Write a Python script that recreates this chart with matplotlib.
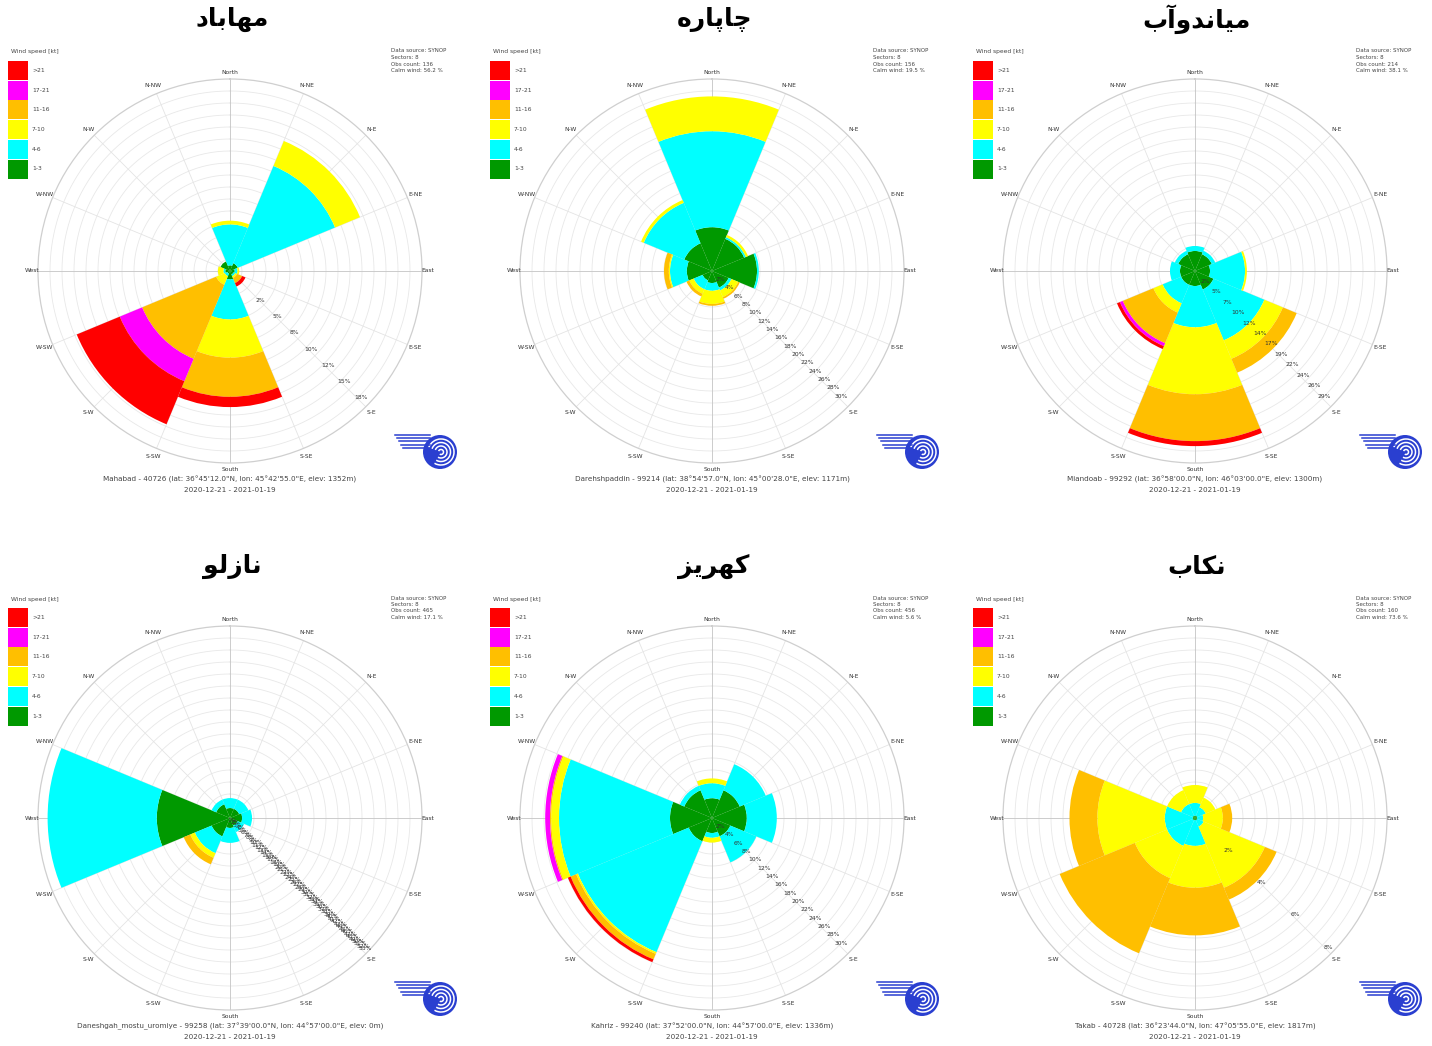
import numpy as np
import matplotlib
matplotlib.use('Agg')
import matplotlib.pyplot as plt
from matplotlib.patches import Rectangle, Circle, Arc

# speed classes [kt] and their colours
classes = ['1-3', '4-6', '7-10', '11-16', '17-21', '>21']
class_colors = ['#009900', '#00ffff', '#ffff00', '#ffbf00', '#ff00ff', '#ff0000']
dirs = ['N', 'NE', 'E', 'SE', 'S', 'SW', 'W', 'NW']
compass = ['North', 'N-NE', 'N-E', 'E-NE', 'East', 'E-SE', 'S-E', 'S-SE',
           'South', 'S-SW', 'S-W', 'W-SW', 'West', 'W-NW', 'N-W', 'N-NW']

titles = ['مهاباد', 'چاپاره', 'میاندوآب', 'نازلو', 'کهریز', 'نکاب']
stations = [
    "Mahabad - 40726 (lat: 36\u00b045'12.0\"N, lon: 45\u00b042'55.0\"E, elev: 1352m)",
    "Darehshpaddin - 99214 (lat: 38\u00b054'57.0\"N, lon: 45\u00b000'28.0\"E, elev: 1171m)",
    "Miandoab - 99292 (lat: 36\u00b058'00.0\"N, lon: 46\u00b003'00.0\"E, elev: 1300m)",
    "Daneshgah_mostu_uromiye - 99258 (lat: 37\u00b039'00.0\"N, lon: 44\u00b057'00.0\"E, elev: 0m)",
    "Kahriz - 99240 (lat: 37\u00b052'00.0\"N, lon: 44\u00b057'00.0\"E, elev: 1336m)",
    "Takab - 40728 (lat: 36\u00b023'44.0\"N, lon: 47\u00b005'55.0\"E, elev: 1817m)",
]
period = '2020-12-21 - 2021-01-19'
obs_count = [136, 156, 214, 465, 456, 160]
calm_pct = [56.2, 19.5, 38.1, 17.1, 5.6, 73.6]

# frequency [%], rows = N..NW, cols = speed classes
mahabad = [[0.6, 4.4, 0.4, 0, 0, 0],
           [0.9, 11.3, 2.9, 0, 0, 0],
           [0.5, 0.3, 0.2, 0, 0, 0],
           [0.4, 0.2, 0.2, 0.6, 0, 0.4],
           [0.9, 4.3, 4.1, 4.2, 0, 1.1],
           [0.3, 0.3, 1.0, 8.6, 2.6, 5.0],
           [0.5, 0.2, 0.6, 0, 0, 0],
           [1.1, 0, 0, 0, 0, 0]]
chapareh = [[7.3, 16.0, 5.8, 0, 0, 0],
            [5.8, 0.3, 0.4, 0, 0, 0],
            [7.5, 0.3, 0, 0, 0, 0],
            [3.0, 0.5, 1.2, 0.3, 0, 0],
            [2.0, 1.3, 2.2, 0.3, 0, 0],
            [1.7, 1.6, 0.8, 0.5, 0, 0],
            [4.2, 2.8, 0.2, 0.8, 0, 0],
            [5.0, 7.3, 0.5, 0, 0, 0]]
miandoab = [[3.2, 0.8, 0, 0, 0, 0],
            [2.9, 0.6, 0, 0, 0, 0],
            [2.4, 5.6, 0.3, 0, 0, 0],
            [3.2, 8.8, 3.2, 2.4, 0, 0],
            [2.4, 6.6, 10.7, 7.5, 0, 0.8],
            [2.4, 3.2, 1.6, 5.3, 0.5, 0.5],
            [2.4, 1.6, 0, 0, 0, 0],
            [2.9, 0.6, 0, 0, 0, 0]]
nazlu = [[2.8, 2.8, 0, 0, 0, 0],
         [2.8, 2.8, 0, 0, 0, 0],
         [3.4, 2.8, 0, 0, 0, 0],
         [2.3, 2.0, 0, 0, 0, 0],
         [2.8, 4.2, 0, 0, 0, 0],
         [5.6, 5.1, 1.4, 2.0, 0, 0],
         [20.6, 30.7, 0, 0, 0, 0],
         [4.2, 1.4, 0, 0, 0, 0]]
kahriz = [[3.3, 2.5, 0.8, 0, 0, 0],
          [5.0, 4.7, 0, 0, 0, 0],
          [5.8, 5.0, 0, 0, 0, 0],
          [3.3, 4.7, 0, 0, 0, 0],
          [2.5, 0.8, 0.8, 0, 0, 0],
          [4.2, 20.0, 0.3, 1.0, 0, 0.5],
          [7.0, 18.5, 1.3, 0.2, 0.8, 0],
          [5.0, 0.8, 0, 0, 0, 0]]
takab = [[0.1, 0.55, 0.77, 0, 0, 0],
         [0.1, 0.4, 0.45, 0, 0, 0],
         [0.1, 0.25, 0.85, 0.4, 0, 0],
         [0.1, 0.3, 2.85, 0.55, 0, 0],
         [0.1, 1.1, 1.8, 2.05, 0, 0],
         [0.1, 1.2, 1.5, 3.5, 0, 0],
         [0.1, 1.2, 2.9, 1.2, 0, 0],
         [0.1, 0.55, 0.65, 0, 0, 0]]
rose_data = [mahabad, chapareh, miandoab, nazlu, kahriz, takab]

r_max = [20.6, 32.0, 30.7, 54.0, 32.0, 8.26]
ring_step = [2.5, 2.0, 2.4, 1.0, 2.0, 2.0]
ring_count = [7, 15, 12, 53, 15, 4]
label_shift = [2.05, 0, 0, 0, 0, 0]

# simple persian shaping (presentation forms, visual order)
FORMS = {
    'ا': ('\uFE8D', '\uFE8E', None, None),
    'آ': ('\uFE81', '\uFE82', None, None),
    'ب': ('\uFE8F', '\uFE90', '\uFE91', '\uFE92'),
    'پ': ('\uFB56', '\uFB57', '\uFB58', '\uFB59'),
    'چ': ('\uFB7A', '\uFB7B', '\uFB7C', '\uFB7D'),
    'د': ('\uFEA9', '\uFEAA', None, None),
    'ر': ('\uFEAD', '\uFEAE', None, None),
    'ز': ('\uFEAF', '\uFEB0', None, None),
    'ل': ('\uFEDD', '\uFEDE', '\uFEDF', '\uFEE0'),
    'م': ('\uFEE1', '\uFEE2', '\uFEE3', '\uFEE4'),
    'ن': ('\uFEE5', '\uFEE6', '\uFEE7', '\uFEE8'),
    'ه': ('\uFEE9', '\uFEEA', '\uFEEB', '\uFEEC'),
    'و': ('\uFEED', '\uFEEE', None, None),
    'ی': ('\uFBFC', '\uFBFD', '\uFBFE', '\uFBFF'),
    'ک': ('\uFB8E', '\uFB8F', '\uFB90', '\uFB91'),
}


def shape(word):
    out = []
    for i, ch in enumerate(word):
        f = FORMS[ch]
        jp = i > 0 and FORMS[word[i-1]][2] is not None
        jn = i < len(word) - 1 and f[2] is not None
        if jp and jn:
            out.append(f[3])
        elif jn:
            out.append(f[2])
        elif jp:
            out.append(f[1])
        else:
            out.append(f[0])
    return ''.join(reversed(out))


W, H = 1432, 1046
R = 192
centers = [(230, 271), (712, 271), (1195, 271), (230, 818), (712, 818), (1195, 818)]
txt = '#444444'

fig = plt.figure(figsize=(W/100, H/100), dpi=100)
theta = np.deg2rad(np.arange(8) * 45)
tt = np.linspace(0, 2*np.pi, 361)

for i, (cx, cy) in enumerate(centers):
    ax = fig.add_axes([(cx-R)/W, (H-cy-R)/H, 2*R/W, 2*R/H], projection='polar')
    ax.set_theta_zero_location('N')
    ax.set_theta_direction(-1)
    rm = r_max[i]
    ax.set_ylim(0, rm)
    ax.set_xticks([])
    ax.set_yticks([])
    ax.grid(False)
    ax.spines['polar'].set_color('#cfcfcf')
    ax.spines['polar'].set_linewidth(0.9)

    # grid
    for k in range(1, 16):
        ax.plot(tt, np.full_like(tt, rm*k/16), color='#e8e8e8', lw=0.6, zorder=1)
    for k in range(16):
        a = np.deg2rad(k*22.5)
        c = '#c4c4c4' if k % 4 == 0 else '#e4e4e4'
        ax.plot([a, a], [0, rm], color=c, lw=0.6, zorder=1)

    vals = np.array(rose_data[i], dtype=float)
    cum = np.cumsum(vals, axis=1)
    for j, col in enumerate(class_colors):
        ax.bar(theta, vals[:, j], width=np.pi/4, bottom=cum[:, j]-vals[:, j],
               color=col, linewidth=0, zorder=2)

    # ring labels
    la = np.deg2rad(134)
    for k in range(1, ring_count[i]+1):
        v = ring_step[i]*k
        ax.text(la, v + label_shift[i], f'{v:.0f}%', fontsize=4.3, color='#333333',
                ha='center', va='center', zorder=5)

    for k, name in enumerate(compass):
        a = np.deg2rad(k*22.5)
        f = 1.032 if k % 4 == 0 else 1.045
        ax.text(a, rm*f, name, fontsize=4.3, color='#333333', ha='center', va='center')

ov = fig.add_axes([0, 0, 1, 1])
ov.set_xlim(0, W)
ov.set_ylim(H, 0)
ov.axis('off')
ov.patch.set_alpha(0)

for i, (cx, cy) in enumerate(centers):
    ov.text(cx+2, cy-252, shape(titles[i]), fontsize=18, fontweight='bold',
            family=['DejaVu Sans'], ha='center', va='center', color='black')

    # legend
    ov.text(cx-219, cy-219, 'Wind speed [kt]', fontsize=4.3, color=txt, ha='left', va='center')
    for j in range(6):
        c = 5 - j
        y0 = cy-210 + 19.7*j
        ov.add_patch(Rectangle((cx-222, y0), 20, 19, facecolor=class_colors[c], edgecolor='none'))
        ov.text(cx-198, y0+9.5, classes[c], fontsize=4.3, color=txt, ha='left', va='center')

    # info block
    info = ['Data source: SYNOP', 'Sectors: 8', f'Obs count: {obs_count[i]}',
            f'Calm wind: {calm_pct[i]:.1f} %']
    for k, line in enumerate(info):
        ov.text(cx+161, cy-220+6.5*k, line, fontsize=4, color=txt, ha='left', va='center')

    ov.text(cx, cy+208, stations[i], fontsize=5.2, color=txt, ha='center', va='center')
    ov.text(cx, cy+219, period, fontsize=5.2, color=txt, ha='center', va='center')

    # logo
    lx, ly = cx+210, cy+181
    ov.add_patch(Circle((lx, ly), 17, facecolor='#2a3fd0', edgecolor='none'))
    for rr in (13, 9.5, 6, 2.5):
        ov.add_patch(Arc((lx+1, ly), 2*rr, 2*rr, theta1=200, theta2=480,
                         color='white', lw=1.1))
    for k in range(5):
        ov.plot([cx+165+k*2, lx-10], [ly-17+k*3.2, ly-17+k*3.2], color='#2a3fd0', lw=1.1)

fig.savefig('out.png', dpi=100)
